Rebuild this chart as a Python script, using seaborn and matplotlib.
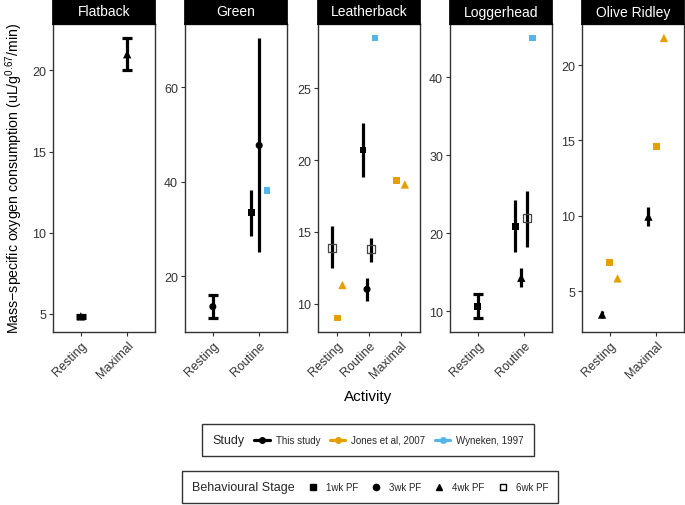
import numpy as np
import pandas as pd
import matplotlib
matplotlib.use("Agg")
import matplotlib.pyplot as plt
from matplotlib.lines import Line2D
from matplotlib.ticker import MultipleLocator
import seaborn as sns

# category orders
species_order = ["Flatback", "Green", "Leatherback", "Loggerhead", "Olive Ridley"]
activity_order = {
    "Flatback": ["Resting", "Maximal"],
    "Green": ["Resting", "Routine"],
    "Leatherback": ["Resting", "Routine", "Maximal"],
    "Loggerhead": ["Resting", "Routine"],
    "Olive Ridley": ["Resting", "Maximal"],
}
study_order = ["This study", "Jones et al, 2007", "Wyneken, 1997"]
stage_order = ["1wk PF", "3wk PF", "4wk PF", "6wk PF"]
y_steps = [5, 20, 5, 10, 5]

# data
species = ["Flatback", "Flatback",
           "Green", "Green", "Green", "Green",
           "Leatherback", "Leatherback", "Leatherback", "Leatherback", "Leatherback",
           "Leatherback", "Leatherback", "Leatherback", "Leatherback",
           "Loggerhead", "Loggerhead", "Loggerhead", "Loggerhead", "Loggerhead",
           "Olive Ridley", "Olive Ridley", "Olive Ridley", "Olive Ridley", "Olive Ridley",
           "Olive Ridley"]
activity = ["Resting", "Maximal",
            "Resting", "Routine", "Routine", "Routine",
            "Resting", "Resting", "Resting", "Routine", "Routine",
            "Routine", "Routine", "Maximal", "Maximal",
            "Resting", "Routine", "Routine", "Routine", "Routine",
            "Resting", "Resting", "Resting", "Maximal", "Maximal",
            "Maximal"]
study = ["This study", "This study",
         "This study", "This study", "This study", "Wyneken, 1997",
         "This study", "Jones et al, 2007", "Jones et al, 2007", "This study", "This study",
         "This study", "Wyneken, 1997", "Jones et al, 2007", "Jones et al, 2007",
         "This study", "This study", "This study", "This study", "Wyneken, 1997",
         "This study", "Jones et al, 2007", "Jones et al, 2007", "This study", "Jones et al, 2007",
         "Jones et al, 2007"]
stage = ["4wk PF", "4wk PF",
         "3wk PF", "1wk PF", "3wk PF", "1wk PF",
         "6wk PF", "1wk PF", "4wk PF", "1wk PF", "3wk PF",
         "6wk PF", "1wk PF", "1wk PF", "4wk PF",
         "1wk PF", "1wk PF", "4wk PF", "6wk PF", "1wk PF",
         "4wk PF", "1wk PF", "4wk PF", "4wk PF", "1wk PF",
         "4wk PF"]
vo2 = [4.85, 21.0,
       13.6, 33.5, 47.7, 38.1,
       13.9, 9.0, 11.3, 20.7, 11.0,
       13.8, 28.5, 18.55, 18.3,
       10.6, 20.9, 14.3, 21.9, 45.0,
       3.45, 6.9, 5.85, 9.95, 14.6,
       21.8]
nan = np.nan
vo2_lo = [4.75, 20.0,
          11.2, 28.6, 25.1, nan,
          12.5, nan, nan, 18.8, 10.2,
          12.9, nan, nan, nan,
          9.15, 17.6, 13.1, 18.3, nan,
          3.22, nan, nan, 9.3, nan,
          nan]
vo2_hi = [4.95, 22.0,
          16.0, 38.3, 70.4, nan,
          15.4, nan, nan, 22.6, 11.8,
          14.6, nan, nan, nan,
          12.2, 24.3, 15.6, 25.4, nan,
          3.66, nan, nan, 10.6, nan,
          nan]

df = pd.DataFrame({"species": species, "activity": activity, "study": study,
                   "stage": stage, "vo2": vo2, "lo": vo2_lo, "hi": vo2_hi})

# dodge positions (ggplot-style position_dodge, width 0.5)
dodge_w = 0.5
df["act_idx"] = [activity_order[s].index(a) for s, a in zip(df.species, df.activity)]
df["study_idx"] = df.study.map(study_order.index)
df["stage_idx"] = df.stage.map(stage_order.index)
df = df.sort_values(["species", "act_idx", "study_idx", "stage_idx"]).reset_index(drop=True)
grp = df.groupby(["species", "activity"])
df["n"] = grp.vo2.transform("size")
df["k"] = grp.cumcount()
df["xpos"] = df.act_idx - dodge_w / 2 + dodge_w / df.n * (df.k + 0.5)

palette = {"This study": "black", "Jones et al, 2007": "#E69F00", "Wyneken, 1997": "#56B4E9"}
markers = {"1wk PF": "s", "3wk PF": "o", "4wk PF": "^", "6wk PF": "s"}
msizes = {"1wk PF": 24, "3wk PF": 26, "4wk PF": 36, "6wk PF": 34}

sns.set_theme(style="white")
plt.rcParams["font.family"] = ["Liberation Sans", "DejaVu Sans"]
plt.rcParams["mathtext.fontset"] = "custom"
plt.rcParams["mathtext.rm"] = "Liberation Sans"
plt.rcParams["mathtext.it"] = "Liberation Sans"

W, H = 685, 506
fig = plt.figure(figsize=(W / 100, H / 100), dpi=100)
fig.patch.set_facecolor("white")

lefts = [53, 185, 318, 450, 582]
pw = 102
top, bottom = 25, 333
dark = "#333333"

for sp, left, step in zip(species_order, lefts, y_steps):
    ax = fig.add_axes([left / W, 1 - bottom / H, pw / W, (bottom - top) / H])
    sub = df[df.species == sp]
    cats = activity_order[sp]

    # error bars: capped when alone at an x position
    eb = sub.dropna(subset=["lo"])
    for alone, cap in [(True, 3.3), (False, 0)]:
        e = eb[(eb.n == 1) == alone]
        if len(e):
            ax.errorbar(e.xpos, e.vo2, yerr=[e.vo2 - e.lo, e.hi - e.vo2], fmt="none",
                        ecolor="black", elinewidth=2.3, capsize=cap, capthick=2.3, zorder=2)

    filled = sub[sub.stage != "6wk PF"]
    sns.scatterplot(data=filled, x="xpos", y="vo2", hue="study", style="stage",
                    size="stage", sizes=msizes, size_order=stage_order,
                    palette=palette, markers=markers, hue_order=study_order,
                    style_order=stage_order, linewidth=0, legend=False,
                    ax=ax, zorder=3)
    hollow = sub[sub.stage == "6wk PF"]
    if len(hollow):
        sns.scatterplot(data=hollow, x="xpos", y="vo2", marker="s", color="none",
                        edgecolor="#444444", linewidth=0.9, s=msizes["6wk PF"],
                        legend=False, ax=ax, zorder=4)

    ymin = np.nanmin([sub.vo2.min(), sub.lo.min()])
    ymax = np.nanmax([sub.vo2.max(), sub.hi.max()])
    pad = (ymax - ymin) * 0.05
    ax.set_ylim(ymin - pad, ymax + pad)
    ax.yaxis.set_major_locator(MultipleLocator(step))
    ax.set_xlim(-0.6, len(cats) - 0.4)
    ax.set_xticks(range(len(cats)))
    ax.set_xticklabels(cats, rotation=45, ha="right", rotation_mode="anchor")
    ax.set_xlabel("")
    ax.set_ylabel("")
    ax.tick_params(axis="both", which="major", length=3, width=0.8, color=dark,
                   labelsize=9, labelcolor=dark, pad=2, bottom=True, left=True)
    for s in ax.spines.values():
        s.set_visible(True)
        s.set_color(dark)
        s.set_linewidth(1.0)

    hax = fig.add_axes([left / W, 1 - top / H, pw / W, top / H])
    hax.set_facecolor("black")
    hax.set_xticks([])
    hax.set_yticks([])
    for s in hax.spines.values():
        s.set_color("black")
    hax.text(0.5, 0.5, sp, color="white", fontsize=10, ha="center", va="center",
             transform=hax.transAxes)

fig.text(14 / W, 1 - 178 / H,
         "Mass\u2212specific oxygen consumption (uL/g$^{0.67}$/min)",
         rotation=90, ha="center", va="center", fontsize=10.2, color="black")
fig.text(368 / W, 1 - 397 / H, "Activity", ha="center", va="center",
         fontsize=11, color="black")


def title_left(leg):
    box = leg.get_children()[0]
    title, hpack = box.get_children()
    box._children = [hpack]
    hpack._children = [title] + hpack.get_children()


study_handles = [Line2D([0], [0], color=palette[s], marker="o", markersize=4,
                        linewidth=2.3) for s in study_order]
leg1 = fig.legend(study_handles, study_order, loc="center",
                  bbox_to_anchor=(368 / W, 1 - 441 / H), ncol=3, title="Study",
                  fontsize=7, title_fontsize=9, frameon=True, fancybox=False,
                  edgecolor="black", handlelength=1.6, handletextpad=0.6,
                  columnspacing=1.0, borderpad=1.05)
leg1.get_frame().set_linewidth(1.0)
title_left(leg1)

stage_handles = [Line2D([], [], linestyle="none", marker=markers[s], color="black",
                        markersize=4.5) for s in stage_order]
stage_handles[3].set_markerfacecolor("none")
leg2 = fig.legend(stage_handles, stage_order, loc="center",
                  bbox_to_anchor=(370 / W, 1 - 488 / H), ncol=4,
                  title="Behavioural Stage", fontsize=7, title_fontsize=9,
                  frameon=True, fancybox=False, edgecolor="black",
                  handlelength=0.7, handletextpad=1.0, columnspacing=1.5,
                  borderpad=1.05)
leg2.get_frame().set_linewidth(1.0)
title_left(leg2)

fig.savefig("out.png", dpi=100)
